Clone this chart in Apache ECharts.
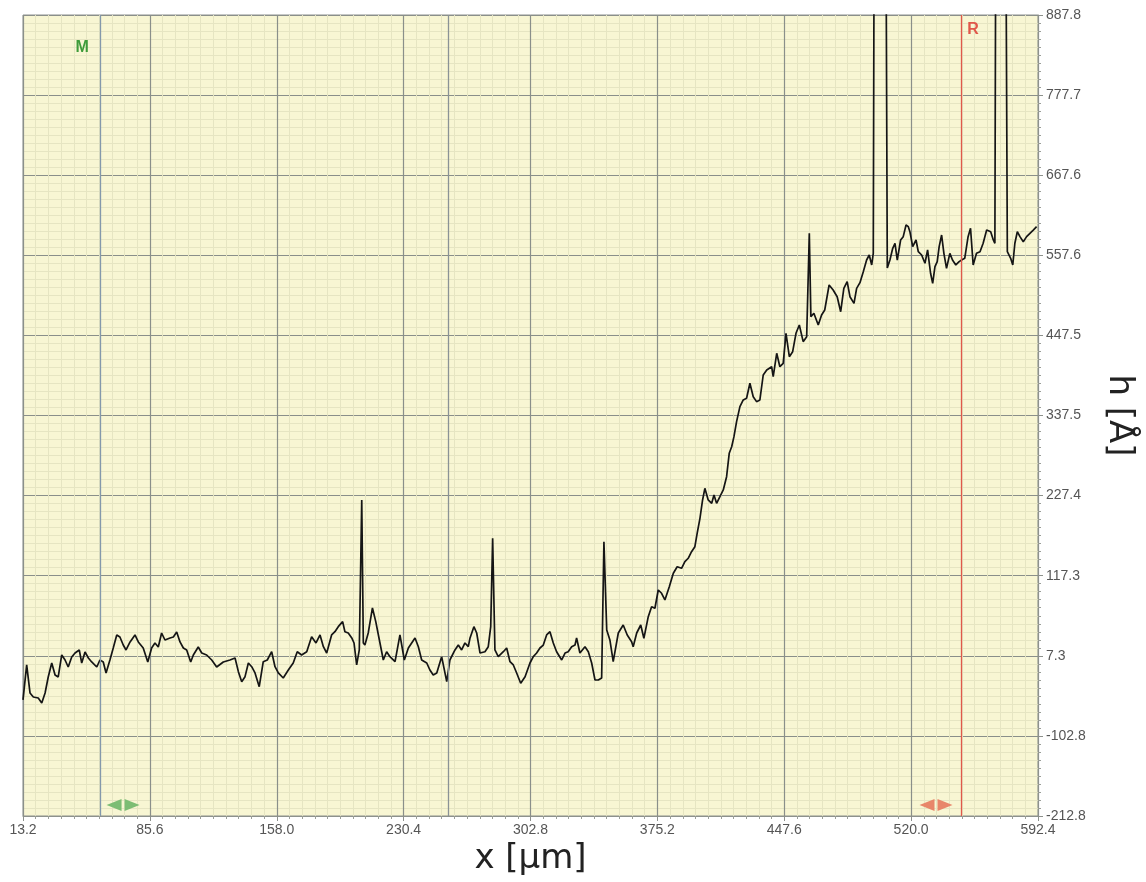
<!DOCTYPE html>
<html>
<head>
<meta charset="utf-8">
<title>Height profile</title>
<script src="https://cdn.jsdelivr.net/npm/echarts@6/dist/echarts.min.js"></script>
<style>
  html, body { margin: 0; padding: 0; background: #ffffff; }
  #chart { width: 1146px; height: 882px; }
</style>
</head>
<body>
<div id="chart"></div>
<script>
// Scan position along the profile, in µm
const xPos = [
  13.2, 15.3, 17.2, 19.1, 21.9, 23.9, 25.8, 27.6, 29.6, 31.5, 33.3, 35.3, 37.2, 39.0, 41.0, 42.9,
  45.3, 46.7, 48.6, 50.5, 52.4, 55.3, 57.1, 59.0, 60.6, 62.8, 64.7, 66.7, 68.5, 70.4, 72.0, 74.3,
  77.1, 79.0, 81.8, 84.4, 86.6, 88.5, 90.4, 92.3, 94.2, 97.1, 99.0, 100.9, 102.8, 104.7, 106.6, 108.9,
  110.4, 113.2, 115.2, 118.0, 120.9, 123.7, 127.5, 131.3, 134.2, 136.1, 138.0, 139.9, 141.8, 143.7,
  145.6, 148.0, 150.3, 152.6, 155.1, 157.0, 158.9, 161.7, 164.6, 167.4, 169.7, 172.2, 175.1, 177.9,
  180.4, 182.7, 184.6, 186.5, 189.3, 191.2, 193.1, 195.6, 196.9, 198.8, 200.8, 202.1, 203.6, 205.1,
  206.5, 207.4, 208.3, 210.2, 212.6, 214.5, 216.9, 218.8, 220.7, 222.6, 225.5, 228.3, 230.8, 233.1,
  236.9, 238.8, 240.7, 243.6, 245.4, 247.3, 249.3, 252.1, 255.0, 256.8, 259.7, 261.6, 263.5, 265.4,
  267.3, 268.3, 270.5, 272.1, 274.0, 276.8, 278.7, 280.1, 281.2, 282.5, 284.4, 287.3, 289.2, 291.1,
  293.0, 294.9, 297.2, 299.7, 302.5, 304.4, 306.3, 308.2, 310.1, 312.0, 313.9, 315.8, 317.7, 320.6,
  322.5, 324.3, 326.3, 328.2, 329.1, 331.0, 333.9, 335.8, 337.7, 339.6, 341.5, 343.4, 344.7, 346.3,
  348.1, 350.0, 352.9, 355.7, 358.0, 360.5, 361.4, 363.4, 365.7, 367.5, 370.0, 371.9, 373.8, 375.7,
  377.6, 379.5, 382.0, 384.3, 386.5, 389.0, 390.9, 392.8, 394.7, 396.6, 397.9, 399.5, 401.0, 402.3,
  404.2, 406.2, 407.5, 409.0, 410.9, 412.8, 414.7, 416.2, 417.6, 418.9, 420.4, 422.3, 424.2, 426.1,
  428.0, 429.9, 431.8, 433.7, 435.6, 437.6, 440.4, 441.3, 443.3, 445.1, 447.0, 448.6, 450.5, 452.4,
  454.3, 456.2, 458.4, 460.4, 461.9, 462.8, 464.5, 467.0, 468.9, 470.7, 473.2, 475.5, 477.8, 479.8,
  481.6, 483.5, 485.1, 487.4, 488.9, 490.8, 492.7, 494.6, 496.1, 497.5, 498.4, 499.0, 505.5, 506.4,
  507.9, 509.5, 510.8, 512.1, 514.0, 515.5, 517.1, 518.4, 519.3, 520.9, 522.8, 524.1, 526.0, 527.9,
  529.4, 531.1, 532.3, 533.6, 534.9, 536.0, 537.4, 538.7, 540.2, 542.1, 543.6, 545.5, 547.4, 548.8,
  550.6, 552.5, 553.9, 555.4, 557.3, 559.3, 561.1, 563.1, 565.4, 566.9, 567.8, 568.4, 573.9, 574.9,
  576.8, 578.0, 579.2, 580.6, 582.1, 584.0, 585.9, 587.8, 589.7, 591.6
];

// Measured height at each position, in Å (spikes run past the top of the scale)
const height = [
  -53.4, -5.3, -43.8, -49.3, -50.7, -57.6, -43.8, -21.8, -2.6, -19.1, -21.8, 8.4, 1.5, -8.1, 5.7, 11.1,
  15.3, -2.6, 12.5, 4.3, -1.2, -8.1, 1.5, -1.2, -16.3, 1.5, 18.0, 35.9, 33.1, 22.1, 15.3, 26.3,
  35.9, 26.3, 18.0, -1.2, 18.0, 24.9, 19.4, 38.6, 29.0, 31.8, 33.1, 40.0, 26.3, 18.0, 15.3, -1.2,
  8.4, 19.4, 11.1, 8.4, 1.5, -8.1, -1.2, 1.5, 4.3, -14.5, -28.3, -21.4, -2.6, -7.7,
  -16.3, -35.2, -0.8, 1.5, 12.9, -7.7, -16.3, -23.2, -12.2, -2.6, 12.9, 8.4, 12.9, 33.5,
  24.9, 35.9, 19.8, 11.1, 35.9, 40.4, 47.3, 54.2, 40.4, 38.6, 31.8, 24.9, -5.3, 15.3,
  221.4, 24.9, 22.1, 38.6, 73.0, 54.2, 24.9, 1.5, 12.9, 6.1, -0.8, 35.9, 1.5, 18.0,
  31.8, 19.8, 1.5, -2.6, -12.2, -19.1, -16.3, 6.1, -28.3, 1.5, 15.3, 22.1, 15.3, 24.9,
  19.8, 31.8, 47.3, 38.6, 11.1, 12.9, 19.8, 47.3, 168.7, 15.3, 6.1, 12.9, 18.0, -0.8,
  -5.3, -16.3, -30.5, -21.4, -2.6, 6.1, 11.1, 18.0, 22.1, 35.9, 40.4, 24.9, 12.9, 1.5,
  11.1, 12.9, 19.8, 22.1, 31.8, 11.1, 19.8, 12.9, -2.6, -26.0, -26.0, -23.2, 164.1, 42.8,
  29.0, -0.8, 38.6, 49.6, 35.9, 26.7, 19.8, 38.6, 49.6, 31.3, 61.0, 74.8, 72.6, 97.7,
  93.2, 84.0, 102.2, 120.7, 129.7, 127.5, 136.6, 141.3, 150.3, 157.2, 175.6, 196.2, 221.4, 237.4,
  221.4, 216.8, 228.2, 216.8, 225.9, 235.1, 253.4, 285.5, 294.6, 308.4, 329.0, 349.6, 358.8, 361.1,
  381.7, 363.3, 356.5, 358.8, 393.1, 400.0, 404.5, 390.8, 422.9, 404.5, 409.2, 450.4, 418.3, 425.1,
  450.4, 461.8, 438.9, 445.8, 587.8, 473.2, 477.9, 461.8, 475.6, 482.4, 516.8, 509.9, 500.7, 480.1,
  512.2, 521.3, 500.7, 491.6, 512.2, 520.0, 535.1, 551.1, 558.0, 544.3, 560.3, 1100.0, 1100.0, 540.1,
  551.1, 567.2, 574.1, 551.1, 578.6, 583.2, 599.2, 596.9, 590.0, 569.4, 578.6, 562.5, 558.0, 546.6,
  564.9, 532.9, 519.1, 542.0, 548.9, 569.4, 585.5, 560.3, 539.7, 560.3, 551.1, 544.3, 548.9, 551.1,
  553.4, 583.2, 594.7, 544.3, 560.3, 562.5, 574.1, 592.3, 590.0, 578.6, 574.1, 1100.0, 1100.0, 562.5,
  553.4, 544.3, 574.1, 590.0, 583.2, 576.3, 583.2, 587.8, 592.3, 596.9
];

// Axis ranges and tick spacing
const xRange = [13.2, 592.4];
const xStep = 72.4;
const yRange = [-212.84, 887.76];
const yStep = 110.06;

// Cursor lines: measurement cursor M, reference cursor R and a plain guide line
const cursorX = { M: 57.1, guide: 255.7, R: 548.4 };
// Cursor captions and drag handles (x in µm, h in Å)
const cursorLabelPos = { M: [46.9, 842.5], R: [555.3, 867.2] };
const handlePos = { M: [70.3, -197.7], R: [534.2, -197.7] };

const profile = xPos.map((x, i) => [x, height[i]]);

const handlePath = 'path://M0,6 L15,0 L15,12 Z M18,0 L33,6 L18,12 Z';

const chart = echarts.init(document.getElementById('chart'), null, { renderer: 'canvas' });

const font = '"Liberation Sans", Arial, sans-serif';
const titleFont = '"DejaVu Sans", "Liberation Sans", sans-serif';

chart.setOption({
  animation: false,
  backgroundColor: '#ffffff',
  grid: {
    left: 23, right: 108, top: 15, bottom: 66,
    show: true,
    backgroundColor: '#f8f6d3',
    borderColor: '#8d918c',
    borderWidth: 1
  },
  xAxis: {
    type: 'value',
    min: xRange[0], max: xRange[1], interval: xStep,
    name: 'x [µm]',
    nameLocation: 'middle',
    nameGap: 24,
    nameTextStyle: { fontFamily: titleFont, fontSize: 34, color: '#222', verticalAlign: 'top' },
    axisLine: { show: true, onZero: false, lineStyle: { color: '#8d918c', width: 1 } },
    axisTick: { show: true, length: 5, lineStyle: { color: '#8d918c' } },
    minorTick: { show: true, splitNumber: 10, length: 3, lineStyle: { color: '#9a9e98' } },
    axisLabel: {
      fontFamily: font, fontSize: 14, color: '#555', margin: 7,
      formatter: v => v.toFixed(1)
    },
    splitLine: { show: true, lineStyle: { color: '#8a8f8a', width: 1.2 } },
    minorSplitLine: { show: true, lineStyle: { color: '#e6e5c2', width: 1 } }
  },
  yAxis: {
    type: 'value',
    position: 'right',
    min: yRange[0], max: yRange[1], interval: yStep,
    name: 'h [Å]',
    nameLocation: 'middle',
    nameRotate: -90,
    nameGap: 64,
    nameTextStyle: { fontFamily: titleFont, fontSize: 34, color: '#222' },
    axisLine: { show: true, lineStyle: { color: '#8d918c', width: 1 } },
    axisTick: { show: true, length: 5, lineStyle: { color: '#8d918c' } },
    minorTick: { show: true, splitNumber: 10, length: 3, lineStyle: { color: '#9a9e98' } },
    axisLabel: {
      fontFamily: font, fontSize: 14, color: '#555', margin: 8,
      formatter: v => v.toFixed(1)
    },
    splitLine: { show: true, lineStyle: { color: '#8a8f8a', width: 1.2 } },
    minorSplitLine: { show: true, lineStyle: { color: '#e6e5c2', width: 1 } }
  },
  series: [{
    type: 'line',
    data: profile,
    showSymbol: false,
    clip: true,
    lineStyle: { color: '#151515', width: 1.7 },
    markLine: {
      silent: true,
      symbol: 'none',
      label: { show: false },
      data: [
        { xAxis: cursorX.M, lineStyle: { color: '#8398ab', width: 1.3, type: 'solid' } },
        { xAxis: cursorX.guide, lineStyle: { color: '#8a9296', width: 1.3, type: 'solid' } },
        { xAxis: cursorX.R, lineStyle: { color: '#e0584a', width: 1.3, type: 'solid' } }
      ]
    },
    markPoint: {
      silent: true,
      data: [
        {
          coord: cursorLabelPos.M, symbol: 'rect', symbolSize: 1,
          itemStyle: { color: 'rgba(0,0,0,0)' },
          label: { show: true, formatter: 'M', position: 'inside', color: '#3e9b3a',
                   fontFamily: font, fontWeight: 'bold', fontSize: 16 }
        },
        {
          coord: cursorLabelPos.R, symbol: 'rect', symbolSize: 1,
          itemStyle: { color: 'rgba(0,0,0,0)' },
          label: { show: true, formatter: 'R', position: 'inside', color: '#e0584a',
                   fontFamily: font, fontWeight: 'bold', fontSize: 16 }
        },
        {
          coord: handlePos.M, symbol: handlePath, symbolSize: [33, 12],
          itemStyle: { color: '#7cbd74' }, label: { show: false }
        },
        {
          coord: handlePos.R, symbol: handlePath, symbolSize: [33, 12],
          itemStyle: { color: '#e8866a' }, label: { show: false }
        }
      ]
    }
  }]
});
</script>
</body>
</html>
